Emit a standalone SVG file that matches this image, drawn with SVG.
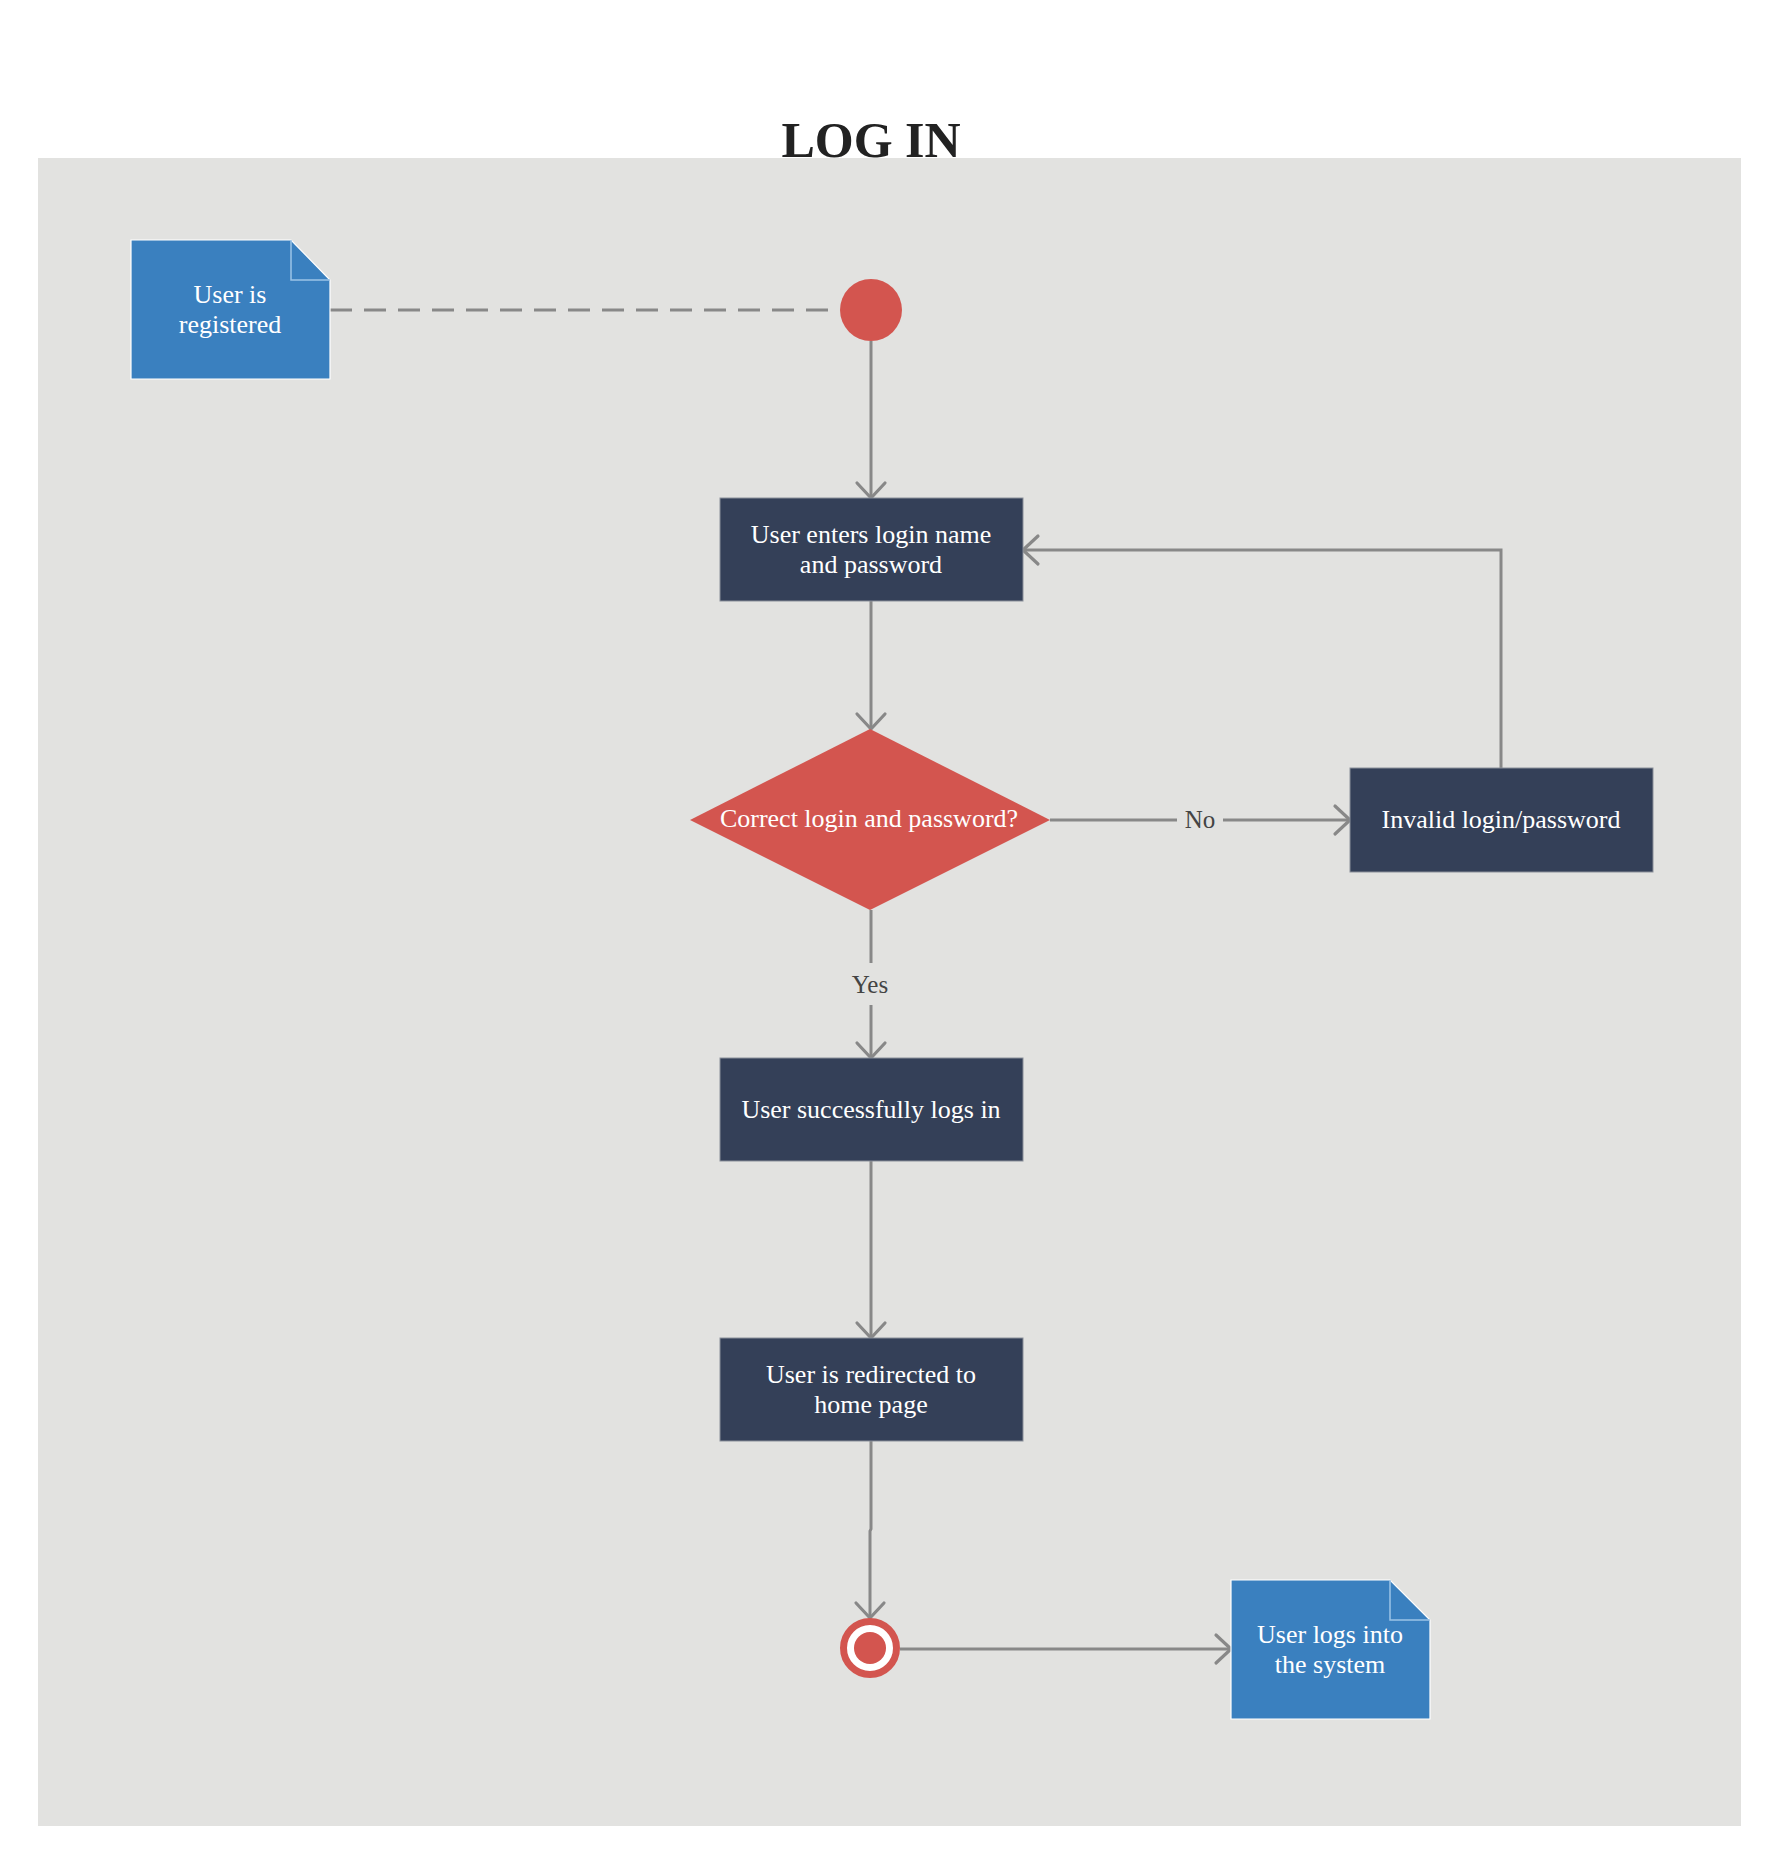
<svg xmlns="http://www.w3.org/2000/svg" width="1781" height="1866" viewBox="0 0 1781 1866">
<style>
.bg{fill:#e2e2e0}
.box{fill:#344058;stroke:#8a8f99;stroke-width:1}
.note{fill:#3a80bf;stroke:#ffffff;stroke-width:1.2}
.fold{fill:none;stroke:#9cc3e8;stroke-width:1.5}
.dec{fill:#d3554f}
.t{font-family:"Liberation Serif","Times New Roman",serif;font-size:26px;fill:#ffffff;text-anchor:middle}
.lbl{font-family:"Liberation Serif","Times New Roman",serif;font-size:25px;fill:#444444;text-anchor:middle}
.title{font-family:"Liberation Serif","Times New Roman",serif;font-size:50px;font-weight:bold;fill:#222222;text-anchor:middle}
.c{fill:none;stroke:#888888;stroke-width:3}
.cd{fill:none;stroke:#888888;stroke-width:3;stroke-dasharray:22 12}
</style>
<defs>
<marker id="arr" markerUnits="userSpaceOnUse" markerWidth="40" markerHeight="40" viewBox="-20 -20 40 40" refX="0" refY="0" orient="auto">
<path d="M-15,-14 L0,0 L-15,14" fill="none" stroke="#888888" stroke-width="3.2" stroke-linecap="round" stroke-linejoin="round"/>
</marker>
</defs>
<rect x="0" y="0" width="1781" height="1866" fill="#ffffff"/>
<rect class="bg" x="38" y="158" width="1703" height="1668"/>
<text class="title" x="871" y="157">LOG IN</text>

<g id="connectors">
<path class="cd" d="M330,310 H839"/>
<path class="c" d="M871,341 V498" marker-end="url(#arr)"/>
<path class="c" d="M871,601 V729" marker-end="url(#arr)"/>
<path class="c" d="M1050,820 H1350" marker-end="url(#arr)"/>
<path class="c" d="M1501,768 V550 H1023" marker-end="url(#arr)"/>
<path class="c" d="M871,910 V1058" marker-end="url(#arr)"/>
<path class="c" d="M871,1161 V1338" marker-end="url(#arr)"/>
<path class="c" d="M871,1441 V1529 L870,1531 V1618" marker-end="url(#arr)"/>
<path class="c" d="M900,1649 H1231" marker-end="url(#arr)"/>
<rect class="bg" x="1177" y="805" width="46" height="30"/>
<text class="lbl" x="1200" y="828">No</text>
<rect class="bg" x="845" y="963" width="52" height="42"/>
<text class="lbl" x="870" y="993">Yes</text>
</g>

<g id="note-registered">
<path class="note" d="M131,240 H291 L330,280 V379 H131 Z"/>
<path class="fold" d="M291,240 V280 H330"/>
<text class="t" x="230" y="303">User is</text>
<text class="t" x="230" y="333">registered</text>
</g>

<g id="start">
<circle cx="871" cy="310" r="31" class="dec"/>
</g>

<g id="enter-login">
<rect class="box" x="720" y="498" width="303" height="103"/>
<text class="t" x="871" y="543">User enters login name</text>
<text class="t" x="871" y="573">and password</text>
</g>

<g id="decision">
<path class="dec" d="M870,729 L1050,820 L870,910 L690,820 Z"/>
<text class="t" x="869" y="827">Correct login and password?</text>
</g>

<g id="invalid">
<rect class="box" x="1350" y="768" width="303" height="104"/>
<text class="t" x="1501" y="828">Invalid login/password</text>
</g>

<g id="success">
<rect class="box" x="720" y="1058" width="303" height="103"/>
<text class="t" x="871" y="1118">User successfully logs in</text>
</g>

<g id="redirect">
<rect class="box" x="720" y="1338" width="303" height="103"/>
<text class="t" x="871" y="1383">User is redirected to</text>
<text class="t" x="871" y="1413">home page</text>
</g>

<g id="end">
<circle cx="870" cy="1648" r="26.5" fill="#ffffff" stroke="#d3554f" stroke-width="7"/>
<circle cx="870" cy="1648" r="16" class="dec"/>
</g>

<g id="note-logs">
<path class="note" d="M1231,1580 H1390 L1430,1620 V1719 H1231 Z"/>
<path class="fold" d="M1390,1580 V1620 H1430"/>
<text class="t" x="1330" y="1643">User logs into</text>
<text class="t" x="1330" y="1673">the system</text>
</g>
</svg>
